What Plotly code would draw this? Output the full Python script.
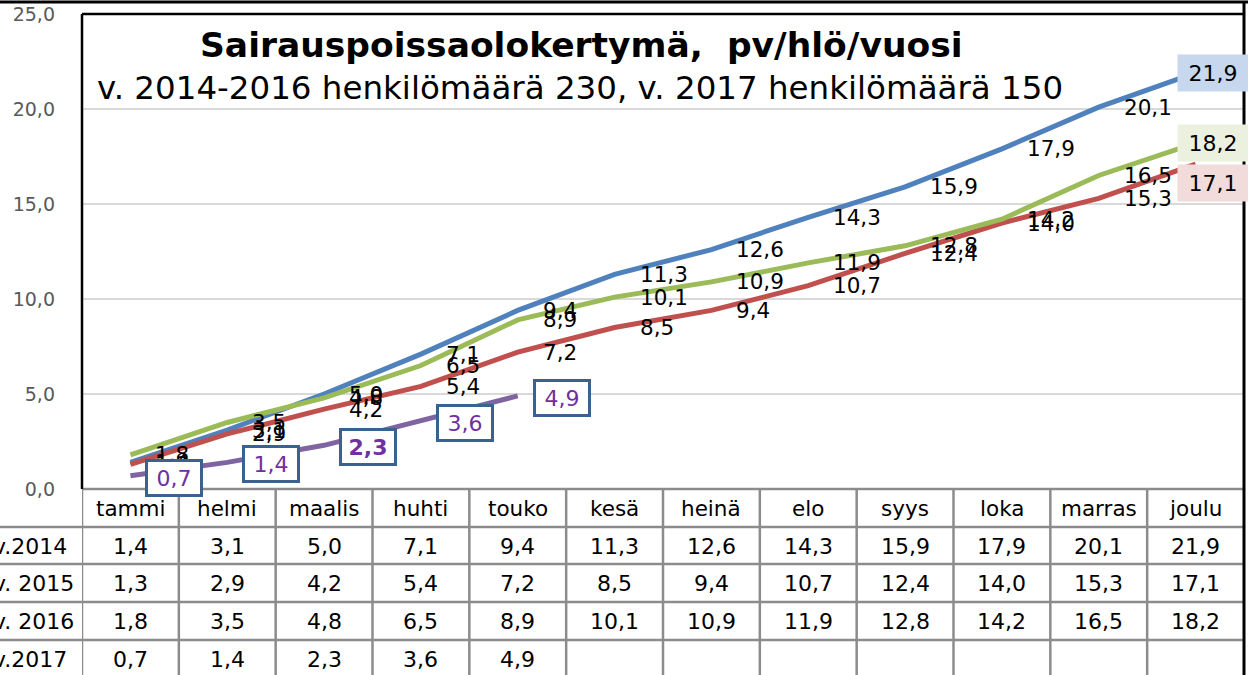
import plotly.graph_objects as go

# ---------------- data ----------------
months = ["tammi", "helmi", "maalis", "huhti", "touko", "kesä",
          "heinä", "elo", "syys", "loka", "marras", "joulu"]
series_names = ["v.2014", "v. 2015", "v. 2016", "v.2017"]
v2014 = [1.4, 3.1, 5.0, 7.1, 9.4, 11.3, 12.6, 14.3, 15.9, 17.9, 20.1, 21.9]
v2015 = [1.3, 2.9, 4.2, 5.4, 7.2, 8.5, 9.4, 10.7, 12.4, 14.0, 15.3, 17.1]
v2016 = [1.8, 3.5, 4.8, 6.5, 8.9, 10.1, 10.9, 11.9, 12.8, 14.2, 16.5, 18.2]
v2017 = [0.7, 1.4, 2.3, 3.6, 4.9]
series_values = [v2014, v2015, v2016, v2017]
colors = ["#4f81bd", "#c0504d", "#9bbb59", "#8064a2"]
end_box_colors = ["#c6d7ee", "#f2dcdb", "#ebf1de"]
title_text = "Sairauspoissaolokertymä,\u00a0 pv/hlö/vuosi"
subtitle_text = "v. 2014-2016 henkilömäärä 230, v. 2017 henkilömäärä 150"
y_ticks = [0, 5, 10, 15, 20, 25]

# ---------------- layout helpers ----------------
W, H = 1248, 675
FONT = "DejaVu Sans"


def px(x):
    return x / W


def py(y):
    return 1 - y / H


def fmt(v):
    return f"{v:.1f}".replace(".", ",")


plot_left, plot_right, plot_top, plot_bottom = 82, 1244, 14, 489
row_lines = [489, 527, 564, 602, 640]
row_centers = [508, 546, 583, 621, 659]

fig = go.Figure()

for name, vals, col in zip(series_names, series_values, colors):
    fig.add_trace(go.Scatter(
        x=months[:len(vals)], y=vals, mode="lines", name=name,
        line=dict(color=col, width=5), hoverinfo="skip", showlegend=False,
        cliponaxis=False,
    ))

annotations = []

# title / subtitle
annotations.append(dict(text=f"<b>{title_text}</b>", x=px(581), y=py(45),
                        xref="paper", yref="paper", showarrow=False,
                        xanchor="center", yanchor="middle",
                        font=dict(family=FONT, size=34.5, color="#000000")))
annotations.append(dict(text=subtitle_text, x=px(580), y=py(88),
                        xref="paper", yref="paper", showarrow=False,
                        xanchor="center", yanchor="middle",
                        font=dict(family=FONT, size=32.5, color="#000000")))

# data labels for 2014-2016 (right of points), end labels boxed
for si in range(3):
    vals = series_values[si]
    for i, v in enumerate(vals):
        if i == len(vals) - 1:
            ysh = -19 if si == 1 else 0
            annotations.append(dict(
                text=fmt(v), x=months[i], y=v, xref="x", yref="y",
                showarrow=False, xanchor="left", yanchor="middle",
                xshift=-19, yshift=ysh, width=70, height=36, align="center",
                bgcolor=end_box_colors[si], borderpad=0,
                font=dict(family=FONT, size=22, color="#000000")))
        else:
            annotations.append(dict(
                text=fmt(v), x=months[i], y=v, xref="x", yref="y",
                showarrow=False, xanchor="left", yanchor="middle",
                xshift=23, font=dict(family=FONT, size=21.5, color="#000000")))

# 2017 boxed labels
for i, v in enumerate(v2017):
    t = fmt(v)
    if i == 2:
        t = f"<b>{t}</b>"
    annotations.append(dict(
        text=t, x=months[i], y=v, xref="x", yref="y", showarrow=False,
        xanchor="left", yanchor="middle", xshift=15, yshift=-2,
        width=52, height=32, align="center", bgcolor="#ffffff",
        bordercolor="#3a6291", borderwidth=3, borderpad=0,
        font=dict(family=FONT, size=22, color="#7030a0")))

# table header (months)
for m in months:
    annotations.append(dict(text=m, x=m, y=py(row_centers[0]), xref="x",
                            yref="paper", showarrow=False, xanchor="center",
                            yanchor="middle",
                            font=dict(family=FONT, size=21.5, color="#000000")))

# table rows
for r, (name, vals) in enumerate(zip(series_names, series_values)):
    yc = py(row_centers[r + 1])
    annotations.append(dict(text=name, x=px(-9), y=yc, xref="paper",
                            yref="paper", showarrow=False, xanchor="left",
                            yanchor="middle",
                            font=dict(family=FONT, size=22, color="#000000")))
    for i, v in enumerate(vals):
        annotations.append(dict(text=fmt(v), x=months[i], y=yc, xref="x",
                                yref="paper", showarrow=False,
                                xanchor="center", yanchor="middle",
                                font=dict(family=FONT, size=22,
                                          color="#000000")))

shapes = []
grid_col = "#8c8c8c"
# horizontal table lines
for k, yl in enumerate(row_lines):
    x0 = px(plot_left) if k == 0 else 0
    shapes.append(dict(type="line", xref="paper", yref="paper",
                       x0=x0, x1=px(plot_right), y0=py(yl), y1=py(yl),
                       line=dict(color=grid_col, width=2.5), layer="above"))
# vertical table lines
for i in range(len(months)):
    shapes.append(dict(type="line", xref="x", yref="paper",
                       x0=i - 0.5, x1=i - 0.5, y0=py(plot_bottom), y1=0,
                       line=dict(color=grid_col, width=2.5), layer="above"))
# chart frame (black)
shapes.append(dict(type="line", xref="paper", yref="paper", x0=0, x1=1,
                   y0=py(2), y1=py(2), line=dict(color="#000000", width=3)))
shapes.append(dict(type="line", xref="paper", yref="paper",
                   x0=px(plot_left), x1=px(plot_right),
                   y0=py(plot_top), y1=py(plot_top),
                   line=dict(color="#000000", width=2.5)))
shapes.append(dict(type="line", xref="paper", yref="paper",
                   x0=px(plot_left), x1=px(plot_left),
                   y0=py(plot_top), y1=py(plot_bottom),
                   line=dict(color="#000000", width=2.5)))
shapes.append(dict(type="line", xref="paper", yref="paper",
                   x0=px(plot_right), x1=px(plot_right), y0=py(2), y1=0,
                   line=dict(color="#000000", width=3), layer="above"))

fig.update_layout(
    width=W, height=H,
    margin=dict(l=0, r=0, t=0, b=0, pad=0, autoexpand=False),
    paper_bgcolor="#ffffff", plot_bgcolor="#ffffff",
    separators=", ",
    font=dict(family=FONT),
    xaxis=dict(domain=[px(plot_left), px(plot_right)], type="category",
               categoryarray=months, range=[-0.5, 11.5], showgrid=False,
               showticklabels=False, showline=False, zeroline=False,
               automargin=False),
    yaxis=dict(domain=[py(plot_bottom), py(plot_top)], range=[0, 25],
               tickvals=y_ticks, tickformat=".1f", showgrid=True,
               gridcolor="#d9d9d9", gridwidth=2, zeroline=False,
               showline=False, ticks="", ticklabelstandoff=26,
               automargin=False,
               tickfont=dict(family=FONT, size=19, color="#595959")),
    annotations=annotations,
    shapes=shapes,
    showlegend=False,
)

page_fix = (
    "document.documentElement.style.margin='0';"
    "document.documentElement.style.overflow='hidden';"
    "document.body.style.margin='0';"
    "document.body.style.overflow='hidden';"
)

fig.write_html(
    "out.html",
    config={"displayModeBar": False, "staticPlot": True},
    post_script=page_fix,
)
